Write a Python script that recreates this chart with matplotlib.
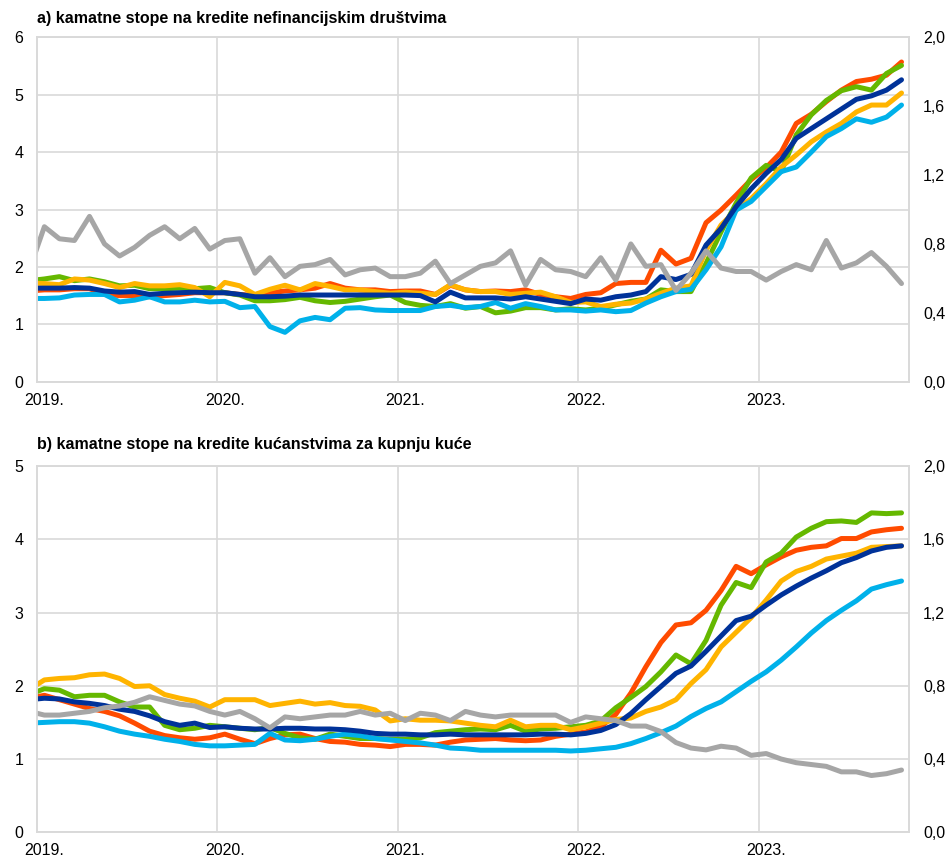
import numpy as np
import matplotlib
matplotlib.use("Agg")
import matplotlib.pyplot as plt
from matplotlib.ticker import FixedLocator, FuncFormatter

plt.rcParams['font.family'] = ['Liberation Sans', 'DejaVu Sans']

# monthly data, Dec 2018 .. Oct 2023 (first point sits just left of the axis)
months = np.arange(-1, 58)
year_labels = ['2019.', '2020.', '2021.', '2022.', '2023.']

# a) loans to non-financial corporations (left axis, %)
nfc_orange = [1.58, 1.60, 1.60, 1.62, 1.62, 1.52, 1.50, 1.50, 1.48, 1.50, 1.52, 1.55, 1.55,
              1.55, 1.52, 1.50, 1.55, 1.58, 1.60, 1.63, 1.71, 1.63, 1.60, 1.60, 1.57,
              1.58, 1.58, 1.52, 1.68, 1.60, 1.57, 1.58, 1.57, 1.60, 1.52, 1.48, 1.45,
              1.52, 1.55, 1.71, 1.73, 1.73, 2.29, 2.05, 2.15, 2.77, 2.99, 3.25, 3.52,
              3.73, 4.00, 4.50, 4.66, 4.88, 5.08, 5.23, 5.27, 5.34, 5.57]
nfc_green = [1.76, 1.79, 1.83, 1.76, 1.79, 1.74, 1.67, 1.68, 1.62, 1.62, 1.63, 1.62, 1.64,
             1.55, 1.51, 1.41, 1.41, 1.43, 1.47, 1.41, 1.38, 1.40, 1.44, 1.48, 1.51,
             1.38, 1.33, 1.31, 1.36, 1.28, 1.31, 1.20, 1.23, 1.29, 1.29, 1.25, 1.27,
             1.25, 1.28, 1.34, 1.40, 1.44, 1.60, 1.57, 1.57, 2.06, 2.61, 3.11, 3.55,
             3.77, 3.66, 4.30, 4.65, 4.90, 5.07, 5.14, 5.08, 5.37, 5.51]
nfc_yellow = [1.72, 1.71, 1.69, 1.79, 1.77, 1.71, 1.64, 1.71, 1.67, 1.67, 1.69, 1.64, 1.48,
              1.73, 1.67, 1.52, 1.61, 1.68, 1.60, 1.71, 1.66, 1.60, 1.60, 1.57, 1.54,
              1.56, 1.54, 1.52, 1.69, 1.60, 1.57, 1.57, 1.52, 1.54, 1.56, 1.48, 1.38,
              1.39, 1.31, 1.35, 1.37, 1.44, 1.54, 1.63, 1.67, 2.29, 2.73, 2.99, 3.19,
              3.45, 3.74, 3.95, 4.18, 4.35, 4.50, 4.70, 4.82, 4.82, 5.03]
nfc_lightblue = [1.45, 1.45, 1.46, 1.51, 1.52, 1.52, 1.39, 1.42, 1.48, 1.39, 1.39, 1.42, 1.39,
                 1.40, 1.29, 1.31, 0.96, 0.86, 1.06, 1.12, 1.08, 1.28, 1.29, 1.25, 1.24,
                 1.24, 1.24, 1.31, 1.33, 1.29, 1.31, 1.38, 1.28, 1.36, 1.31, 1.25, 1.25,
                 1.23, 1.25, 1.22, 1.24, 1.37, 1.48, 1.57, 1.61, 1.95, 2.35, 2.99, 3.14,
                 3.40, 3.66, 3.74, 4.00, 4.27, 4.41, 4.58, 4.52, 4.61, 4.82]
nfc_darkblue = [1.63, 1.63, 1.63, 1.64, 1.63, 1.58, 1.56, 1.57, 1.52, 1.54, 1.55, 1.56, 1.55,
                1.55, 1.52, 1.48, 1.48, 1.49, 1.51, 1.51, 1.51, 1.51, 1.51, 1.51, 1.51,
                1.51, 1.50, 1.39, 1.56, 1.46, 1.46, 1.46, 1.44, 1.48, 1.44, 1.40, 1.36,
                1.44, 1.42, 1.48, 1.51, 1.57, 1.83, 1.78, 1.87, 2.38, 2.67, 3.05, 3.36,
                3.63, 3.87, 4.24, 4.41, 4.58, 4.75, 4.92, 4.98, 5.08, 5.26]
# grey series on right axis
nfc_grey = [0.65, 0.90, 0.83, 0.82, 0.96, 0.80, 0.73, 0.78, 0.85, 0.90, 0.83, 0.89, 0.77,
            0.82, 0.83, 0.63, 0.72, 0.61, 0.67, 0.68, 0.71, 0.62, 0.65, 0.66, 0.61,
            0.61, 0.63, 0.70, 0.57, 0.62, 0.67, 0.69, 0.76, 0.56, 0.71, 0.65, 0.64,
            0.61, 0.72, 0.59, 0.80, 0.67, 0.68, 0.53, 0.63, 0.76, 0.66, 0.64, 0.64,
            0.59, 0.64, 0.68, 0.65, 0.82, 0.66, 0.69, 0.75, 0.67, 0.57]

# b) loans to households for house purchase (left axis, %)
hh_orange = [1.83, 1.87, 1.81, 1.75, 1.69, 1.65, 1.59, 1.49, 1.38, 1.32, 1.29, 1.27, 1.29,
             1.34, 1.27, 1.21, 1.28, 1.33, 1.34, 1.28, 1.24, 1.23, 1.20, 1.19, 1.17,
             1.20, 1.20, 1.19, 1.23, 1.26, 1.27, 1.28, 1.26, 1.25, 1.26, 1.31, 1.34,
             1.37, 1.44, 1.61, 1.90, 2.26, 2.59, 2.83, 2.86, 3.03, 3.30, 3.63, 3.53,
             3.65, 3.76, 3.85, 3.89, 3.91, 4.01, 4.01, 4.10, 4.13, 4.15]
hh_green = [1.88, 1.96, 1.94, 1.85, 1.87, 1.87, 1.78, 1.71, 1.71, 1.46, 1.40, 1.42, 1.46,
            1.44, 1.42, 1.40, 1.43, 1.35, 1.29, 1.27, 1.34, 1.31, 1.28, 1.28, 1.27,
            1.27, 1.29, 1.36, 1.38, 1.40, 1.41, 1.40, 1.46, 1.38, 1.41, 1.42, 1.44,
            1.46, 1.52, 1.70, 1.84, 1.99, 2.19, 2.42, 2.30, 2.62, 3.10, 3.41, 3.34,
            3.69, 3.81, 4.03, 4.15, 4.24, 4.25, 4.23, 4.36, 4.35, 4.36]
hh_yellow = [1.95, 2.08, 2.10, 2.11, 2.15, 2.16, 2.10, 1.99, 2.00, 1.88, 1.83, 1.79, 1.71,
             1.81, 1.81, 1.81, 1.73, 1.76, 1.79, 1.75, 1.77, 1.73, 1.72, 1.67, 1.52,
             1.55, 1.53, 1.53, 1.52, 1.49, 1.46, 1.44, 1.53, 1.44, 1.46, 1.46, 1.40,
             1.44, 1.49, 1.54, 1.56, 1.65, 1.71, 1.81, 2.03, 2.22, 2.53, 2.73, 2.93,
             3.17, 3.43, 3.56, 3.63, 3.73, 3.77, 3.81, 3.89, 3.90, 3.91]
hh_lightblue = [1.49, 1.50, 1.51, 1.51, 1.49, 1.44, 1.38, 1.34, 1.31, 1.27, 1.24, 1.20, 1.18,
                1.18, 1.19, 1.20, 1.35, 1.26, 1.25, 1.27, 1.31, 1.34, 1.32, 1.28, 1.26,
                1.24, 1.22, 1.19, 1.15, 1.14, 1.12, 1.12, 1.12, 1.12, 1.12, 1.12, 1.11,
                1.12, 1.14, 1.16, 1.21, 1.28, 1.36, 1.45, 1.58, 1.69, 1.78, 1.92, 2.06,
                2.19, 2.35, 2.53, 2.72, 2.89, 3.03, 3.16, 3.32, 3.38, 3.43]
hh_darkblue = [1.81, 1.83, 1.82, 1.78, 1.76, 1.73, 1.68, 1.65, 1.59, 1.51, 1.46, 1.49, 1.43,
               1.44, 1.42, 1.41, 1.41, 1.42, 1.42, 1.41, 1.41, 1.40, 1.38, 1.35, 1.34,
               1.34, 1.33, 1.33, 1.34, 1.33, 1.33, 1.33, 1.33, 1.33, 1.34, 1.34, 1.33,
               1.35, 1.39, 1.47, 1.62, 1.81, 1.99, 2.17, 2.27, 2.47, 2.68, 2.89, 2.95,
               3.10, 3.24, 3.36, 3.47, 3.57, 3.68, 3.75, 3.84, 3.89, 3.91]
hh_grey = [0.66, 0.64, 0.64, 0.65, 0.66, 0.68, 0.69, 0.71, 0.74, 0.72, 0.70, 0.69, 0.66,
           0.64, 0.66, 0.62, 0.57, 0.63, 0.62, 0.63, 0.64, 0.64, 0.66, 0.64, 0.65,
           0.61, 0.65, 0.64, 0.61, 0.66, 0.64, 0.63, 0.64, 0.64, 0.64, 0.64, 0.60,
           0.63, 0.62, 0.61, 0.58, 0.58, 0.55, 0.49, 0.46, 0.45, 0.47, 0.46, 0.42,
           0.43, 0.40, 0.38, 0.37, 0.36, 0.33, 0.33, 0.31, 0.32, 0.34]

ORANGE = '#FF4B00'
GREEN = '#65B800'
YELLOW = '#FFB400'
LBLUE = '#00B1EA'
DBLUE = '#003299'
GREY = '#A6A6A6'
GRID = '#D9D9D9'
LW = 3.6
FS = 11.5


def draw_panel(ax, left_series, grey, ymax, title, title_y):
    for vals, col in left_series:
        ax.plot(months, vals, color=col, lw=LW, solid_joinstyle='round',
                solid_capstyle='round')
    ax.set_xlim(-0.47, 57.5)
    ax.set_ylim(0, ymax)
    ax.set_yticks(range(0, ymax + 1))
    ax.yaxis.set_major_formatter(FuncFormatter(lambda v, p: '%d' % v))
    # year boundaries carry the grid, labels sit on January
    ax.xaxis.set_major_locator(FixedLocator([-0.5 + 12 * i for i in range(5)]))
    ax.xaxis.set_minor_locator(FixedLocator([12 * i for i in range(5)]))
    ax.set_xticklabels([''] * 5)
    ax.set_xticklabels(year_labels, minor=True)
    ax.tick_params(axis='x', which='both', length=0, pad=8, labelsize=FS)
    ax.tick_params(axis='y', length=0, pad=10, labelsize=FS)
    ax.grid(True, which='major', color=GRID, lw=1.2)
    ax.set_axisbelow(True)
    for s in ax.spines.values():
        s.set_color(GRID)
        s.set_linewidth(1.2)

    ax2 = ax.twinx()
    ax2.plot(months, grey, color=GREY, lw=LW, solid_joinstyle='round',
             solid_capstyle='round')
    ax2.set_ylim(0, 2.0)
    ax2.set_yticks(np.arange(0, 2.01, 0.4))
    ax2.yaxis.set_major_formatter(FuncFormatter(lambda v, p: ('%.1f' % v).replace('.', ',')))
    ax2.tick_params(axis='y', length=0, pad=10, labelsize=FS)
    for s in ax2.spines.values():
        s.set_color(GRID)
        s.set_linewidth(1.2)

    fig.text(37.3 / 947, title_y, title, fontsize=FS, fontweight='bold',
             ha='left', va='center')


fig = plt.figure(figsize=(9.47, 8.56), dpi=100)
ax_a = fig.add_axes([0.0394, 0.5541, 0.9205, 0.4023])
ax_b = fig.add_axes([0.0394, 0.0277, 0.9205, 0.4279])

draw_panel(ax_a, [(nfc_orange, ORANGE), (nfc_green, GREEN), (nfc_yellow, YELLOW),
                  (nfc_lightblue, LBLUE), (nfc_darkblue, DBLUE)],
           nfc_grey, 6, 'a) kamatne stope na kredite nefinancijskim društvima', 1 - 19 / 856)
draw_panel(ax_b, [(hh_orange, ORANGE), (hh_green, GREEN), (hh_yellow, YELLOW),
                  (hh_lightblue, LBLUE), (hh_darkblue, DBLUE)],
           hh_grey, 5, 'b) kamatne stope na kredite kućanstvima za kupnju kuće', 1 - 444 / 856)

fig.savefig('out.png', dpi=100)
